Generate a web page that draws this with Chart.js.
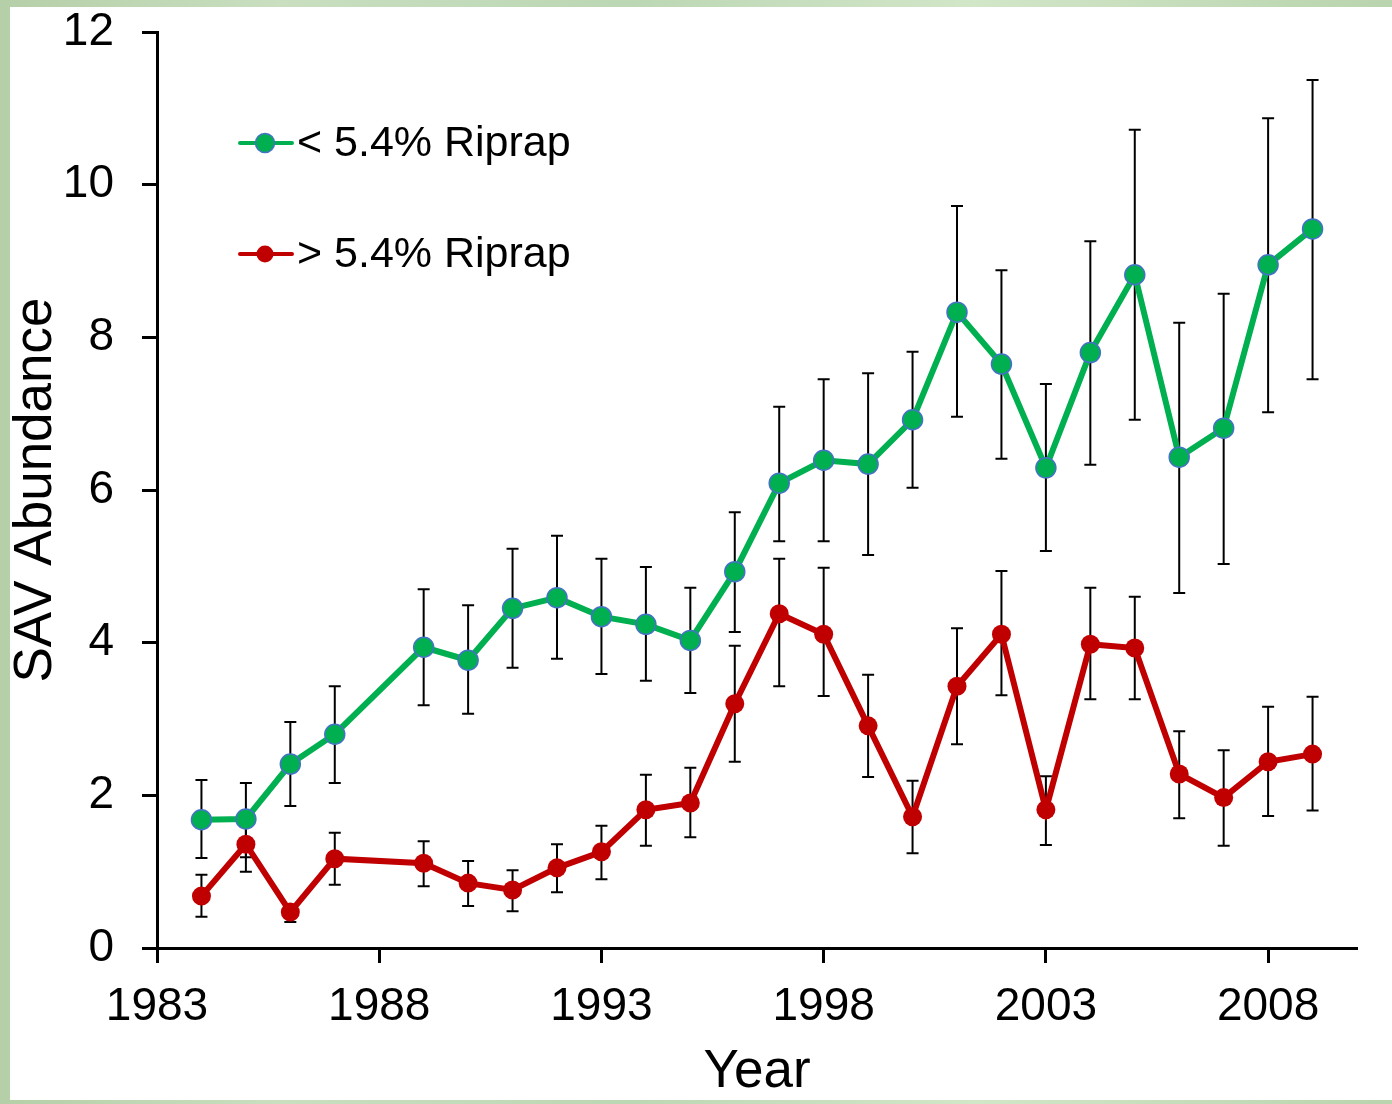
<!DOCTYPE html>
<html>
<head>
<meta charset="utf-8">
<script src="https://cdn.jsdelivr.net/npm/chart.js@4.4.1/dist/chart.umd.min.js"></script>
<style>
  html, body { margin: 0; padding: 0; }
  body {
    width: 1392px; height: 1104px; overflow: hidden; position: relative;
    background: linear-gradient(90deg, #b5cfa8 0%, #c9dfc0 20%, #bcd7b4 45%, #d2e6c8 70%, #b9d4ae 100%);
  }
  #panel { position: absolute; left: 10px; top: 7px; width: 1382px; height: 1093px; background: #fff; }
  #wrap { position: absolute; left: 0; top: 0; width: 1392px; height: 1104px; }
</style>
</head>
<body>
<div id="panel"></div>
<div id="wrap"><canvas id="chart"></canvas></div>
<script>
// ── Data ──
const years = [1984, 1985, 1986, 1987, 1989, 1990, 1991, 1992, 1993, 1994, 1995, 1996,
  1997, 1998, 1999, 2000, 2001, 2002, 2003, 2004, 2005, 2006, 2007, 2008, 2009];

// < 5.4% riprap
const lowMean  = [1.68, 1.69, 2.41, 2.80, 3.94, 3.77, 4.45, 4.59, 4.34, 4.24, 4.03, 4.93,
  6.09, 6.39, 6.34, 6.92, 8.33, 7.65, 6.29, 7.80, 8.82, 6.43, 6.81, 8.95, 9.42];
const lowUpper = [2.20, 2.16, 2.96, 3.43, 4.70, 4.49, 5.23, 5.40, 5.10, 4.99, 4.72, 5.71,
  7.09, 7.45, 7.53, 7.81, 9.72, 8.88, 7.39, 9.26, 10.72, 8.19, 8.57, 10.87, 11.37];
const lowLower = [1.18, 1.19, 1.86, 2.16, 3.18, 3.07, 3.67, 3.79, 3.59, 3.50, 3.34, 4.14,
  5.33, 5.33, 5.15, 6.03, 6.96, 6.41, 5.20, 6.33, 6.92, 4.65, 5.03, 7.02, 7.45];

// > 5.4% riprap
const highMean  = [0.68, 1.36, 0.47, 1.17, 1.11, 0.85, 0.76, 1.05, 1.26, 1.81, 1.90, 3.20,
  4.38, 4.11, 2.91, 1.72, 3.43, 4.11, 1.81, 3.98, 3.93, 2.28, 1.97, 2.44, 2.54];
const highUpper = [0.96, 1.78, 0.56, 1.51, 1.40, 1.14, 1.02, 1.36, 1.60, 2.27, 2.36, 3.96,
  5.10, 4.98, 3.58, 2.19, 4.19, 4.94, 2.25, 4.72, 4.60, 2.84, 2.59, 3.16, 3.29];
const highLower = [0.41, 1.00, 0.34, 0.83, 0.81, 0.55, 0.48, 0.73, 0.90, 1.34, 1.45, 2.44,
  3.43, 3.30, 2.24, 1.24, 2.67, 3.31, 1.35, 3.26, 3.26, 1.70, 1.34, 1.73, 1.80];

const seriesLabels = ['< 5.4% Riprap', '> 5.4% Riprap'];
const xTicks = [1983, 1988, 1993, 1998, 2003, 2008];
const yTicks = [0, 2, 4, 6, 8, 10, 12];

const GREEN = '#00B050';
const RED = '#C00000';
const FONT = "'Liberation Sans', Arial, sans-serif";

const toPoints = arr => years.map((x, i) => ({ x: x, y: arr[i] }));

// ── Error bars (drawn behind the lines) ──
const errorBars = {
  id: 'errorBars',
  beforeDatasetsDraw(chart) {
    const { ctx, scales: { x, y } } = chart;
    const bounds = [[lowUpper, lowLower], [highUpper, highLower]];
    ctx.save();
    ctx.strokeStyle = '#000';
    ctx.lineWidth = 2;
    bounds.forEach(([up, lo]) => {
      years.forEach((yr, i) => {
        const px = x.getPixelForValue(yr);
        const pTop = y.getPixelForValue(up[i]);
        const pBot = y.getPixelForValue(lo[i]);
        ctx.beginPath();
        ctx.moveTo(px, pTop); ctx.lineTo(px, pBot);
        ctx.moveTo(px - 6, pTop); ctx.lineTo(px + 6, pTop);
        ctx.moveTo(px - 6, pBot); ctx.lineTo(px + 6, pBot);
        ctx.stroke();
      });
    });
    ctx.restore();
  }
};

// ── Legend inside the plot, top left ──
const insideLegend = {
  id: 'insideLegend',
  afterDraw(chart) {
    const ctx = chart.ctx;
    const rows = [143, 254];
    ctx.save();
    chart.data.datasets.forEach((ds, i) => {
      const yy = rows[i];
      ctx.strokeStyle = ds.borderColor;
      ctx.lineWidth = 4;
      ctx.lineCap = 'round';
      ctx.beginPath(); ctx.moveTo(240, yy); ctx.lineTo(292, yy); ctx.stroke();
      ctx.beginPath();
      ctx.arc(265, yy, i === 0 ? 9.5 : 8.5, 0, Math.PI * 2);
      ctx.fillStyle = ds.pointBackgroundColor;
      ctx.fill();
      if (i === 0) { ctx.lineWidth = 1.5; ctx.strokeStyle = ds.pointBorderColor; ctx.stroke(); }
      ctx.fillStyle = '#000';
      ctx.font = '43px ' + FONT;
      ctx.textBaseline = 'middle';
      ctx.textAlign = 'left';
      ctx.fillText(ds.label, 297, yy + 1);
    });
    ctx.restore();
  }
};

new Chart(document.getElementById('chart'), {
  type: 'line',
  data: {
    datasets: [
      {
        label: seriesLabels[0],
        data: toPoints(lowMean),
        borderColor: GREEN, borderWidth: 6,
        pointBackgroundColor: GREEN, pointBorderColor: '#4472C4',
        pointBorderWidth: 1.5, pointRadius: 10, tension: 0
      },
      {
        label: seriesLabels[1],
        data: toPoints(highMean),
        borderColor: RED, borderWidth: 6,
        pointBackgroundColor: RED, pointBorderColor: RED,
        pointBorderWidth: 0, pointRadius: 9.5, tension: 0
      }
    ]
  },
  options: {
    responsive: true, maintainAspectRatio: false, animation: false,
    layout: { padding: { left: 5, top: 32, right: 35, bottom: 0 } },
    plugins: { legend: { display: false }, tooltip: { enabled: false } },
    scales: {
      x: {
        type: 'linear', min: 1983, max: 2010,
        afterBuildTicks: s => { s.ticks = xTicks.map(v => ({ value: v })); },
        afterFit: s => { s.height = 156; s.paddingLeft = 0; s.paddingRight = 0; },
        border: { display: true, color: '#000', width: 3 },
        grid: { drawOnChartArea: false, drawTicks: true, tickLength: 15, tickWidth: 3, tickColor: '#000' },
        ticks: { color: '#000', font: { family: FONT, size: 46 }, padding: 17, maxRotation: 0,
          callback: v => String(v) },
        title: { display: true, text: 'Year', color: '#000', font: { family: FONT, size: 53 },
          padding: { top: 0, bottom: 0 } }
      },
      y: {
        min: 0, max: 12,
        afterBuildTicks: s => { s.ticks = yTicks.map(v => ({ value: v })); },
        afterFit: s => { s.width = 152; s.paddingTop = 0; s.paddingBottom = 0; },
        border: { display: true, color: '#000', width: 3 },
        grid: { drawOnChartArea: false, drawTicks: true, tickLength: 15, tickWidth: 3, tickColor: '#000' },
        ticks: { color: '#000', font: { family: FONT, size: 46 }, padding: 28 },
        title: { display: true, text: 'SAV Abundance', color: '#000', font: { family: FONT, size: 53 },
          padding: { top: 0, bottom: 0 } }
      }
    }
  },
  plugins: [errorBars, insideLegend]
});
</script>
</body>
</html>
